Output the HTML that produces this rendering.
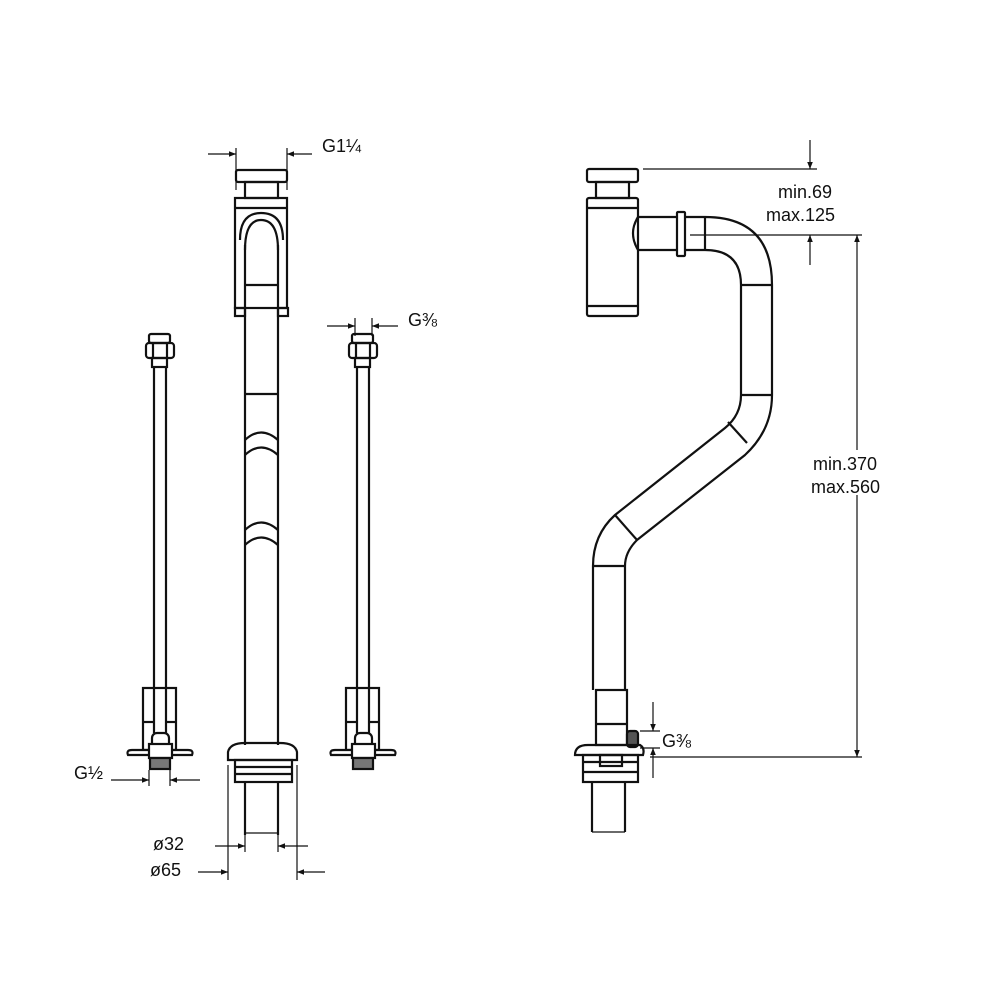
<!DOCTYPE html>
<html><head><meta charset="utf-8"><style>
html,body{margin:0;padding:0;background:#fff}
svg{display:block}
text{font-family:"Liberation Sans",sans-serif;fill:#111}
</style></head><body>
<svg width="990" height="990" viewBox="0 0 990 990" xmlns="http://www.w3.org/2000/svg">
<defs>
<marker id="a" viewBox="0 0 10 10" refX="10" refY="5" markerWidth="10" markerHeight="7" orient="auto-start-reverse" markerUnits="userSpaceOnUse"><path d="M0,1 L10,5 L0,9 z" fill="#111"/></marker>
<g id="valve">
 <rect x="149" y="334" width="21" height="9" rx="2"/>
 <rect x="146" y="343" width="28" height="15" rx="3"/>
 <line x1="153" y1="343" x2="153" y2="358"/><line x1="167" y1="343" x2="167" y2="358"/>
 <rect x="152" y="358" width="15" height="9"/>
 <line x1="154" y1="367" x2="154" y2="733"/><line x1="166" y1="367" x2="166" y2="733"/>
 <rect x="143" y="688" width="33" height="62"/>
 <line x1="143" y1="722" x2="154" y2="722"/><line x1="166" y1="722" x2="176" y2="722"/>
 <rect x="152" y="733" width="17" height="15" rx="5" fill="#fff"/>
 <path d="M128 755 Q126 750 132 750 L188 750 Q194 750 192 755 Z" fill="#fff"/>
 <rect x="149" y="744" width="23" height="14" fill="#fff"/>
 <rect x="150" y="758" width="20" height="11" fill="#777"/>
</g>
</defs>
<g fill="none" stroke="#111" stroke-width="2.2">
<rect x="236" y="170" width="51" height="12" rx="2"/>
<rect x="245" y="182" width="33" height="16"/>
<rect x="235" y="198" width="52" height="110"/>
<line x1="235" y1="208" x2="287" y2="208"/>
<rect x="235" y="308" width="10" height="8"/><rect x="278" y="308" width="10" height="8"/>
<path d="M240 240 Q240 213 261 213 Q283 213 283 240"/>
<path d="M245 250 Q245 220 261 220 Q278 220 278 250"/>
<line x1="245" y1="245" x2="245" y2="745"/><line x1="278" y1="245" x2="278" y2="745"/>
<line x1="245" y1="285" x2="278" y2="285"/>
<line x1="245" y1="394" x2="278" y2="394"/>
<path d="M245 440 Q261 425 278 440"/><path d="M245 455 Q261 440 278 455"/>
<path d="M245 530 Q261 515 278 530"/><path d="M245 545 Q261 530 278 545"/>
<path d="M228 760 L228 752 Q230 743 245 743 L280 743 Q295 743 297 752 L297 760 Z"/>
<rect x="235" y="760" width="57" height="22"/>
<line x1="235" y1="767" x2="292" y2="767"/><line x1="235" y1="774" x2="292" y2="774"/>
<line x1="245" y1="782" x2="245" y2="835"/><line x1="278" y1="782" x2="278" y2="835"/>
<line x1="245" y1="833" x2="278" y2="833" stroke-width="1.2"/>
</g>
<g fill="none" stroke="#111" stroke-width="2.2">
<use href="#valve"/>
<use href="#valve" transform="translate(203,0)"/>
</g>
<g fill="none" stroke="#111" stroke-width="2.2">
<rect x="587" y="169" width="51" height="13" rx="2"/>
<rect x="596" y="182" width="33" height="16"/>
<rect x="587" y="198" width="51" height="118" rx="2"/>
<line x1="587" y1="208" x2="638" y2="208"/>
<line x1="587" y1="306" x2="638" y2="306"/>
<path d="M638 217 L705 217 Q772 217 772 285 L772 395 Q772 430 745 455 L637 540 Q625 552 625 566 L625 690"/>
<path d="M638 250 L705 250 Q741 250 741 285 L741 395 Q741 415 725 428 L615 515 Q593 535 593 566 L593 690"/>
<path d="M638 217 Q628 233 638 250"/>
<rect x="677" y="212" width="8" height="44" rx="1" fill="#fff"/>
<line x1="705" y1="217" x2="705" y2="250"/>
<line x1="741" y1="285" x2="772" y2="285"/>
<line x1="741" y1="395" x2="772" y2="395"/>
<line x1="728" y1="422" x2="747" y2="443"/>
<line x1="615" y1="515" x2="637" y2="540"/>
<line x1="593" y1="566" x2="625" y2="566"/>
<rect x="596" y="690" width="31" height="55"/>
<line x1="596" y1="724" x2="627" y2="724"/>
<rect x="627" y="731" width="11" height="16" rx="3" fill="#555"/>
<path d="M575 755 Q575 745 588 745 L640 745 Q645 748 643 755 Z"/>
<rect x="583" y="755" width="55" height="27"/>
<line x1="583" y1="762" x2="638" y2="762"/><line x1="583" y1="772" x2="638" y2="772"/>
<rect x="600" y="755" width="22" height="11"/>
<line x1="592" y1="782" x2="592" y2="832"/><line x1="625" y1="782" x2="625" y2="832"/>
<line x1="592" y1="832" x2="625" y2="832" stroke-width="1.2"/>
</g>
<g stroke="#111" stroke-width="1.2" fill="none">
<line x1="236" y1="148" x2="236" y2="190"/><line x1="287" y1="148" x2="287" y2="190"/>
<line x1="208" y1="154" x2="236" y2="154" marker-end="url(#a)"/>
<line x1="312" y1="154" x2="287" y2="154" marker-end="url(#a)"/>
<line x1="355" y1="318" x2="355" y2="336"/><line x1="372" y1="318" x2="372" y2="336"/>
<line x1="327" y1="326" x2="355" y2="326" marker-end="url(#a)"/>
<line x1="398" y1="326" x2="372" y2="326" marker-end="url(#a)"/>
<line x1="149" y1="770" x2="149" y2="786"/><line x1="170" y1="770" x2="170" y2="786"/>
<line x1="111" y1="780" x2="149" y2="780" marker-end="url(#a)"/>
<line x1="200" y1="780" x2="170" y2="780" marker-end="url(#a)"/>
<line x1="245" y1="835" x2="245" y2="852"/><line x1="278" y1="835" x2="278" y2="852"/>
<line x1="228" y1="765" x2="228" y2="880"/><line x1="297" y1="765" x2="297" y2="880"/>
<line x1="215" y1="846" x2="245" y2="846" marker-end="url(#a)"/>
<line x1="308" y1="846" x2="278" y2="846" marker-end="url(#a)"/>
<line x1="198" y1="872" x2="228" y2="872" marker-end="url(#a)"/>
<line x1="325" y1="872" x2="297" y2="872" marker-end="url(#a)"/>
<line x1="643" y1="169" x2="817" y2="169"/>
<line x1="810" y1="140" x2="810" y2="169" marker-end="url(#a)"/>
<line x1="690" y1="235" x2="862" y2="235"/>
<line x1="810" y1="265" x2="810" y2="235" marker-end="url(#a)"/>
<line x1="857" y1="450" x2="857" y2="235" marker-end="url(#a)"/>
<line x1="857" y1="495" x2="857" y2="757" marker-end="url(#a)"/>
<line x1="650" y1="757" x2="862" y2="757"/>
<line x1="640" y1="731" x2="660" y2="731"/><line x1="640" y1="748" x2="660" y2="748"/>
<line x1="653" y1="702" x2="653" y2="731" marker-end="url(#a)"/>
<line x1="653" y1="778" x2="653" y2="748" marker-end="url(#a)"/>
</g>
<g font-size="18">
<text x="322" y="152">G1¼</text>
<text x="408" y="326">G⅜</text>
<text x="74" y="779">G½</text>
<text x="153" y="850">ø32</text>
<text x="150" y="876">ø65</text>
<text x="778" y="198">min.69</text>
<text x="766" y="221">max.125</text>
<text x="813" y="470">min.370</text>
<text x="811" y="493">max.560</text>
<text x="662" y="747">G⅜</text>
</g>
</svg>
</body></html>
